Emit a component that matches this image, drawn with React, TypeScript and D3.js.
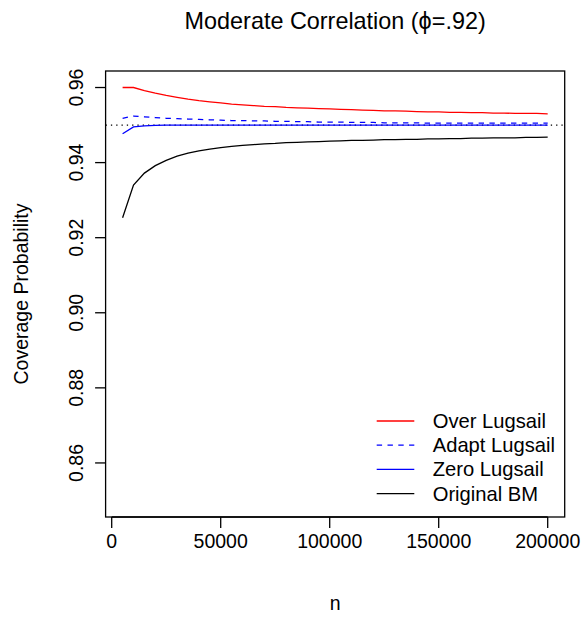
import React from "react";
import * as d3 from "d3";

const nValues = [
  5000, 10000, 15000, 20000, 25000, 30000, 35000, 40000, 45000, 50000,
  55000, 60000, 65000, 70000, 75000, 80000, 85000, 90000, 95000, 100000,
  105000, 110000, 115000, 120000, 125000, 130000, 135000, 140000, 145000, 150000,
  155000, 160000, 165000, 170000, 175000, 180000, 185000, 190000, 195000, 200000,
];

const overLugsail = [
  0.96, 0.96, 0.9592, 0.9585, 0.9579, 0.9574, 0.9569, 0.9565, 0.9562, 0.9559,
  0.9556, 0.9554, 0.9552, 0.955, 0.9549, 0.9547, 0.9546, 0.9545, 0.9544, 0.9543,
  0.9542, 0.9541, 0.954, 0.9539, 0.9538, 0.9538, 0.9537, 0.9536, 0.9535, 0.9535,
  0.9534, 0.9534, 0.9533, 0.9533, 0.9532, 0.9532, 0.9531, 0.9531, 0.9531, 0.953,
];

const adaptLugsail = [
  0.9518, 0.9524, 0.9522, 0.952, 0.9518, 0.9517, 0.9516, 0.9515, 0.9514, 0.9513,
  0.9512, 0.9512, 0.9511, 0.9511, 0.951, 0.951, 0.9509, 0.9509, 0.9508, 0.9508,
  0.9508, 0.9507, 0.9507, 0.9507, 0.9506, 0.9506, 0.9506, 0.9506, 0.9505, 0.9505,
  0.9505, 0.9505, 0.9505, 0.9505, 0.9505, 0.9505, 0.9505, 0.9505, 0.9505, 0.9505,
];

const zeroLugsail = [
  0.9477, 0.9495, 0.9498, 0.9499, 0.95, 0.95, 0.95, 0.95, 0.95, 0.95,
  0.95, 0.95, 0.95, 0.95, 0.95, 0.95, 0.95, 0.95, 0.95, 0.95,
  0.95, 0.95, 0.95, 0.95, 0.95, 0.95, 0.95, 0.95, 0.95, 0.95,
  0.95, 0.95, 0.95, 0.95, 0.95, 0.95, 0.95, 0.95, 0.95, 0.95,
];

const originalBM = [
  0.9253, 0.934, 0.9372, 0.9392, 0.9406, 0.9417, 0.9425, 0.9431, 0.9436, 0.944,
  0.9443, 0.9446, 0.9448, 0.945, 0.9451, 0.9453, 0.9454, 0.9455, 0.9456, 0.9457,
  0.9458, 0.9459, 0.9459, 0.946, 0.9461, 0.9461, 0.9462, 0.9462, 0.9463, 0.9463,
  0.9464, 0.9464, 0.9465, 0.9465, 0.9466, 0.9466, 0.9466, 0.9467, 0.9467, 0.9468,
];

const seriesNames = ["Over Lugsail", "Adapt Lugsail", "Zero Lugsail", "Original BM"];
const seriesColors = ["#FF0000", "#0000FF", "#0000FF", "#000000"];
const seriesDash = ["", "5.4,5.4", "", ""];
const seriesValues = [overLugsail, adaptLugsail, zeroLugsail, originalBM];

const xTicks = [0, 50000, 100000, 150000, 200000];
const yTicks = [0.86, 0.88, 0.9, 0.92, 0.94, 0.96];
const refLine = 0.95;

const titleText = "Moderate Correlation (\u03D5=.92)";
const xLabel = "n";
const yLabel = "Coverage Probability";

const W = 585;
const H = 620;
const FONT = "'Liberation Sans', Arial, Helvetica, sans-serif";

export default function App() {
  const left = 105.6, right = 564.7, top = 71, bottom = 517;
  const xPad = (200000 - 5000) * 0.04;
  const x = d3.scaleLinear().domain([5000 - xPad, 200000 + xPad]).range([left, right]);
  const yPad = (0.96 - 0.85) * 0.04;
  const y = d3.scaleLinear().domain([0.85 - yPad, 0.96 + yPad]).range([bottom, top]);

  const line = d3
    .line<[number, number]>()
    .x((d) => x(d[0]))
    .y((d) => y(d[1]));

  const fs = 19.5;
  const legendFs = 20.2;
  const legendX1 = 376.7, legendX2 = 414.3, legendTextX = 432.7;
  const legendY0 = 421, legendStep = 24.2;

  return (
    <svg
      width={W}
      height={H}
      style={{ position: "absolute", left: 0, top: 0, background: "#fff" }}
      fontFamily={FONT}
    >
      <rect x={0} y={0} width={W} height={H} fill="#fff" />
      {/* reference line */}
      <line
        x1={left}
        x2={right}
        y1={y(refLine)}
        y2={y(refLine)}
        stroke="#000"
        strokeWidth={1.3}
        strokeDasharray="1.3,4"
      />
      {/* series */}
      {seriesValues.map((vals, i) => (
        <path
          key={seriesNames[i]}
          d={line(nValues.map((n, j) => [n, vals[j]] as [number, number])) || ""}
          fill="none"
          stroke={seriesColors[i]}
          strokeWidth={1.3}
          strokeDasharray={seriesDash[i] || undefined}
        />
      ))}
      {/* box */}
      <rect
        x={left}
        y={top}
        width={right - left}
        height={bottom - top}
        fill="none"
        stroke="#000"
        strokeWidth={1.3}
      />
      {/* x axis */}
      <line x1={x(xTicks[0])} x2={x(xTicks[xTicks.length - 1])} y1={bottom} y2={bottom} stroke="#000" strokeWidth={1.3} />
      {xTicks.map((t) => (
        <g key={t}>
          <line x1={x(t)} x2={x(t)} y1={bottom} y2={bottom + 11} stroke="#000" strokeWidth={1.3} />
          <text x={x(t)} y={548} fontSize={fs} textAnchor="middle" fill="#000">
            {String(t)}
          </text>
        </g>
      ))}
      {/* y axis */}
      {yTicks.map((t) => (
        <g key={t}>
          <line x1={left - 10.5} x2={left} y1={y(t)} y2={y(t)} stroke="#000" strokeWidth={1.3} />
          <text
            transform={`translate(83,${y(t)}) rotate(-90)`}
            fontSize={fs}
            textAnchor="middle"
            fill="#000"
          >
            {t.toFixed(2)}
          </text>
        </g>
      ))}
      {/* labels */}
      <text x={(left + right) / 2} y={29} fontSize={fs * 1.2} textAnchor="middle" fill="#000">
        {titleText}
      </text>
      <text x={(left + right) / 2} y={610} fontSize={fs} textAnchor="middle" fill="#000">
        {xLabel}
      </text>
      <text
        transform={`translate(28,${(top + bottom) / 2}) rotate(-90)`}
        fontSize={fs}
        textAnchor="middle"
        fill="#000"
      >
        {yLabel}
      </text>
      {/* legend */}
      {seriesNames.map((name, i) => {
        const ly = legendY0 + i * legendStep;
        return (
          <g key={name}>
            <line
              x1={legendX1}
              x2={legendX2}
              y1={ly}
              y2={ly}
              stroke={seriesColors[i]}
              strokeWidth={1.3}
              strokeDasharray={seriesDash[i] || undefined}
            />
            <text x={legendTextX} y={ly} dy="0.35em" fontSize={legendFs} fill="#000">
              {name}
            </text>
          </g>
        );
      })}
    </svg>
  );
}
